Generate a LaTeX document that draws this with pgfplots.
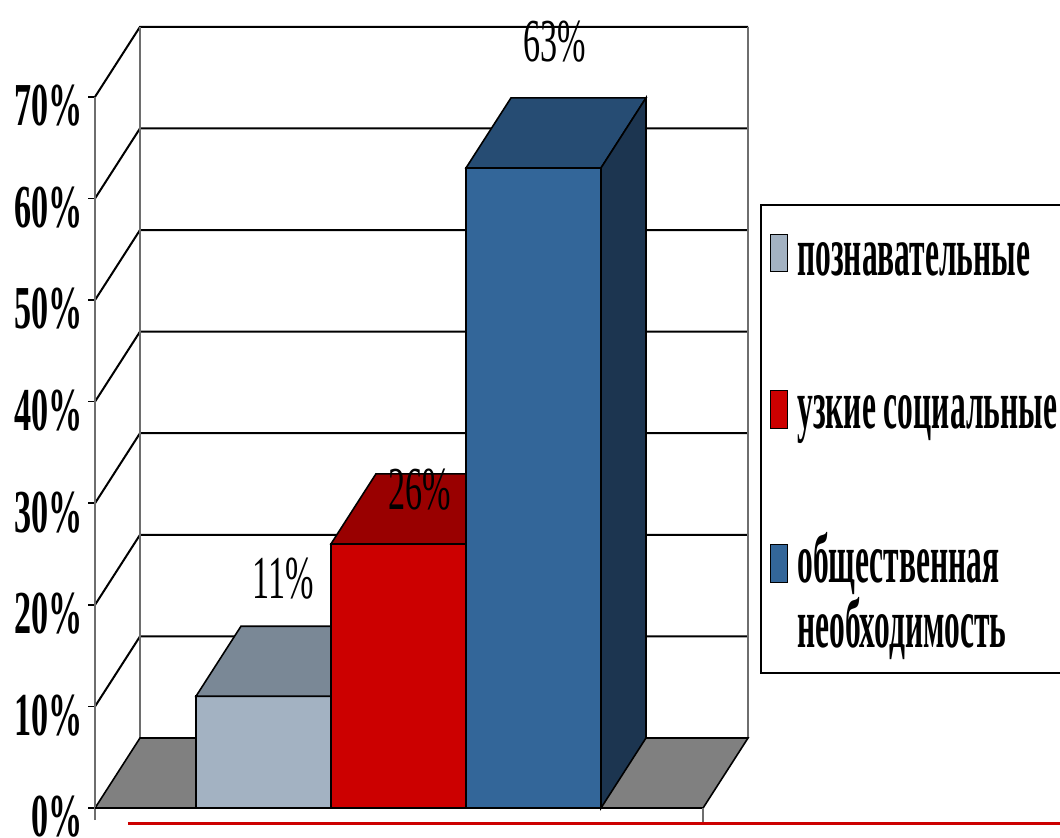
\documentclass[border=0pt]{standalone}
\usepackage{fontspec}
\setmainfont{Liberation Serif}
\newfontfamily\cond[FakeStretch=0.56]{Liberation Serif}
\newfontfamily\condL[FakeStretch=0.45]{Liberation Serif}
\usepackage{pgfplots}
\pgfplotsset{compat=1.18}
\definecolor{bOneF}{RGB}{163,178,194}
\definecolor{bOneT}{RGB}{122,136,150}
\definecolor{bTwoF}{RGB}{204,0,0}
\definecolor{bTwoT}{RGB}{153,0,0}
\definecolor{bThrF}{RGB}{51,102,153}
\definecolor{bThrT}{RGB}{38,76,115}
\definecolor{bThrS}{RGB}{28,53,80}
\definecolor{floorc}{RGB}{128,128,128}
\definecolor{wallc}{RGB}{110,110,110}
\definecolor{slidered}{RGB}{204,0,0}
\begin{document}
\begin{tikzpicture}
\begin{axis}[
  x=67.5pt, y=5.08pt,
  xmin=-0.748, xmax=4.089, ymin=0, ymax=76.89,
  clip=false,
  axis line style={draw=none},
  xtick=\empty,
  ytick={0,10,...,70},
  ytick pos=left,
  tick align=outside,
  major tick length=3.5pt,
  tick style={black, line width=0.8pt},
  /pgf/number format/assume math mode=true,
  yticklabel={\cond\bfseries\pgfmathprintnumber{\tick}\%},
  yticklabel style={font=\cond\bfseries\fontsize{30.5}{30.5}\selectfont, anchor=east, inner sep=0pt, xshift=-2.5pt, yshift=-4.5pt},
]
% back wall and side wall grid
\addplot[black, line width=1pt] coordinates {(-0.748,10) (-0.415,16.89) (4.089,16.89)};
\addplot[black, line width=1pt] coordinates {(-0.748,20) (-0.415,26.89) (4.089,26.89)};
\addplot[black, line width=1pt] coordinates {(-0.748,30) (-0.415,36.89) (4.089,36.89)};
\addplot[black, line width=1pt] coordinates {(-0.748,40) (-0.415,46.89) (4.089,46.89)};
\addplot[black, line width=1pt] coordinates {(-0.748,50) (-0.415,56.89) (4.089,56.89)};
\addplot[black, line width=1pt] coordinates {(-0.748,60) (-0.415,66.89) (4.089,66.89)};
\addplot[black, line width=1pt] coordinates {(-0.748,70) (-0.415,76.89) (4.089,76.89)};
\addplot[wallc, line width=0.8pt] coordinates {(-0.415,6.89) (-0.415,76.89)};
\addplot[wallc, line width=0.8pt] coordinates {(4.089,6.89) (4.089,76.89)};
% floor
\addplot[fill=floorc, draw=black, line width=0.8pt] coordinates {(-0.748,0) (3.756,0) (4.089,6.89) (-0.415,6.89)} -- cycle;
% bar 1: познавательные 11%
\addplot[fill=bOneF, draw=black, line width=0.8pt] coordinates {(0,0) (1,0) (1,11) (0,11)} -- cycle;
\addplot[fill=bOneT, draw=black, line width=0.8pt] coordinates {(0,11) (1,11) (1.333,17.89) (0.333,17.89)} -- cycle;
% bar 2: узкие социальные 26%
\addplot[fill=bTwoF, draw=black, line width=0.8pt] coordinates {(1,0) (2,0) (2,26) (1,26)} -- cycle;
\addplot[fill=bTwoT, draw=black, line width=0.8pt] coordinates {(1,26) (2,26) (2.333,32.89) (1.333,32.89)} -- cycle;
% bar 3: общественная необходимость 63%
\addplot[fill=bThrF, draw=black, line width=0.8pt] coordinates {(2,0) (3,0) (3,63) (2,63)} -- cycle;
\addplot[fill=bThrT, draw=black, line width=0.8pt] coordinates {(2,63) (3,63) (3.333,69.89) (2.333,69.89)} -- cycle;
\addplot[fill=bThrS, draw=black, line width=0.8pt] coordinates {(3,0) (3.333,6.89) (3.333,69.89) (3,63)} -- cycle;
% front axis line, floor corner tick
\addplot[wallc, line width=0.8pt] coordinates {(-0.748,-1.2) (-0.748,70)};
\addplot[wallc, line width=0.8pt] coordinates {(3.756,0) (3.756,-1.38)};
\addplot[black, line width=0.8pt] coordinates {(-0.748,0) (0,0)};
% slide red line
\addplot[slidered, line width=1.5pt] coordinates {(-0.504,-1.48) (6.5,-1.48)};
% data labels
\node[font=\cond\fontsize{30.5}{30.5}\selectfont] at (axis cs:0.644,22.6) {11\%};
\node[font=\cond\fontsize{30.5}{30.5}\selectfont] at (axis cs:1.66,31.3) {26\%};
\node[font=\cond\fontsize{30.5}{30.5}\selectfont] at (axis cs:2.66,75.4) {63\%};
% legend
\draw[black, line width=0.6pt, fill=white] (axis cs:6.44,59.35) -- (axis cs:4.185,59.35) -- (axis cs:4.185,13.29) -- (axis cs:6.44,13.29);
\draw[fill=bOneF, draw=black, line width=0.5pt] (axis cs:4.259,52.76) rectangle (axis cs:4.385,56.40);
\draw[fill=bTwoF, draw=black, line width=0.5pt] (axis cs:4.259,37.40) rectangle (axis cs:4.385,41.14);
\draw[fill=bThrF, draw=black, line width=0.5pt] (axis cs:4.259,22.15) rectangle (axis cs:4.385,25.89);
\begin{scope}[every node/.style={anchor=base west, inner sep=0pt, font=\condL\bfseries\fontsize{35}{28.5}\selectfont}]
\node at (axis cs:4.452,52.46) {познавательные};
\node at (axis cs:4.452,37.40) {узкие социальные};
\node at (axis cs:4.452,22.15) {\parbox[t]{140pt}{\raggedright общественная\\необходимость}};
\end{scope}
\coordinate (BL) at (axis cs:-1.452,-2.95);
\coordinate (TR) at (axis cs:6.4,79.53);
\end{axis}
\pgfresetboundingbox
\path (BL) rectangle (TR);
\end{tikzpicture}
\end{document}
